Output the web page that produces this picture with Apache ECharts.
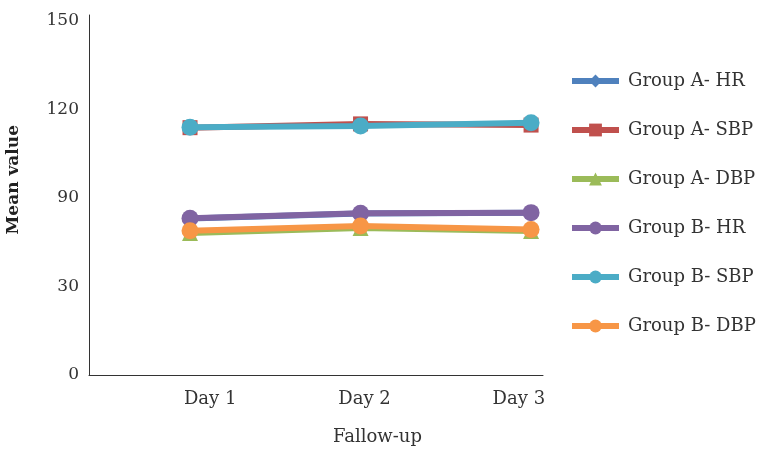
<!DOCTYPE html>
<html>
<head>
<meta charset="utf-8">
<script src="https://cdn.jsdelivr.net/npm/echarts@6/dist/echarts.min.js"></script>
<style>
html,body{margin:0;padding:0;background:#fff;}
#chart{width:757px;height:453px;}
</style>
</head>
<body>
<div id="chart"></div>
<script>
// Data (values in plotted axis units; y axis ticks equally spaced, labelled as in the source)
var categories = ['Day 1', 'Day 2', 'Day 3'];
var dayIndex = [1, 2, 3];
var yTickLabels = ['0', '30', '90', '120', '150'];
var groupA_HR  = [66.3, 68.4, 68.7];
var groupA_SBP = [104.8, 106.4, 105.9];
var groupA_DBP = [60.2, 62.3, 61.0];
var groupB_HR  = [66.4, 68.5, 68.8];
var groupB_SBP = [105.0, 105.5, 106.9];
var groupB_DBP = [61.1, 63.1, 61.7];

var FONT = 'DejaVu Serif';
function pts(arr){ return arr.map(function(v,i){ return [dayIndex[i], v]; }); }

var seriesDefs = [
  {name:'Group A- HR',  data:groupA_HR,  color:'#4F81BD', symbol:'diamond', size:16},
  {name:'Group A- SBP', data:groupA_SBP, color:'#C0504D', symbol:'rect', size:15},
  {name:'Group A- DBP', data:groupA_DBP, color:'#9BBB59', symbol:'triangle', size:16},
  {name:'Group B- HR',  data:groupB_HR,  color:'#8064A2', symbol:'circle', size:17},
  {name:'Group B- SBP', data:groupB_SBP, color:'#4BACC6', symbol:'circle', size:17},
  {name:'Group B- DBP', data:groupB_DBP, color:'#F79646', symbol:'circle', size:17}
];

var chart = echarts.init(document.getElementById('chart'), null, {renderer:'canvas'});
var option = {
  animation:false,
  backgroundColor:'#fff',
  textStyle:{fontFamily:FONT},
  grid:[
    {left:89, right:214, top:21, bottom:78},
    {left:133, width:463, top:21, bottom:78},
    {left:89, right:214, top:15, bottom:78}
  ],
  xAxis:[
    {type:'value', gridIndex:0, min:0.4076, max:3.07,
     axisLine:{show:true, onZero:false, lineStyle:{color:'#333', width:1}},
     axisTick:{show:false}, axisLabel:{show:false}, splitLine:{show:false}},
    {type:'category', gridIndex:1, data:categories, boundaryGap:true,
     axisLine:{show:false}, axisTick:{show:false}, splitLine:{show:false},
     axisLabel:{fontFamily:FONT, fontSize:18, color:'#333', margin:15}},
    {type:'value', gridIndex:2, show:false}
  ],
  yAxis:[
    {type:'value', gridIndex:0, min:0, max:150, interval:37.5,
     axisLine:{show:false},
     axisTick:{show:false}, splitLine:{show:false},
     axisLabel:{fontFamily:FONT, fontSize:17, color:'#333', margin:10,
       formatter:function(v){ return yTickLabels[Math.round(v/37.5)]; }}},
    {type:'value', gridIndex:1, min:0, max:150, show:false},
    {type:'value', gridIndex:2, min:0, max:150,
     axisLine:{show:true, onZero:false, lineStyle:{color:'#333', width:1}},
     axisTick:{show:false}, axisLabel:{show:false}, splitLine:{show:false}}
  ],
  legend:{
    orient:'vertical', left:564, top:67, itemGap:31, itemWidth:47, itemHeight:16,
    lineStyle:{width:6},
    textStyle:{fontFamily:FONT, fontSize:18, color:'#333', padding:[0,0,0,4]},
    data:seriesDefs.map(function(s){return s.name;})
  },
  graphic:[
    {type:'text', left:5, top:125, rotation:Math.PI/2, style:{text:'Mean value', font:'bold 17px "'+FONT+'"', fill:'#222'}},
    {type:'text', left:333, top:428, style:{text:'Fallow-up', font:'18px "'+FONT+'"', fill:'#333'}}
  ],
  series:seriesDefs.map(function(s){
    return {name:s.name, type:'line', xAxisIndex:0, yAxisIndex:0, data:pts(s.data),
      symbol:s.symbol, symbolSize:s.size, showSymbol:true,
      itemStyle:{color:s.color}, lineStyle:{color:s.color, width:6}};
  })
};
chart.setOption(option);
</script>
</body>
</html>
